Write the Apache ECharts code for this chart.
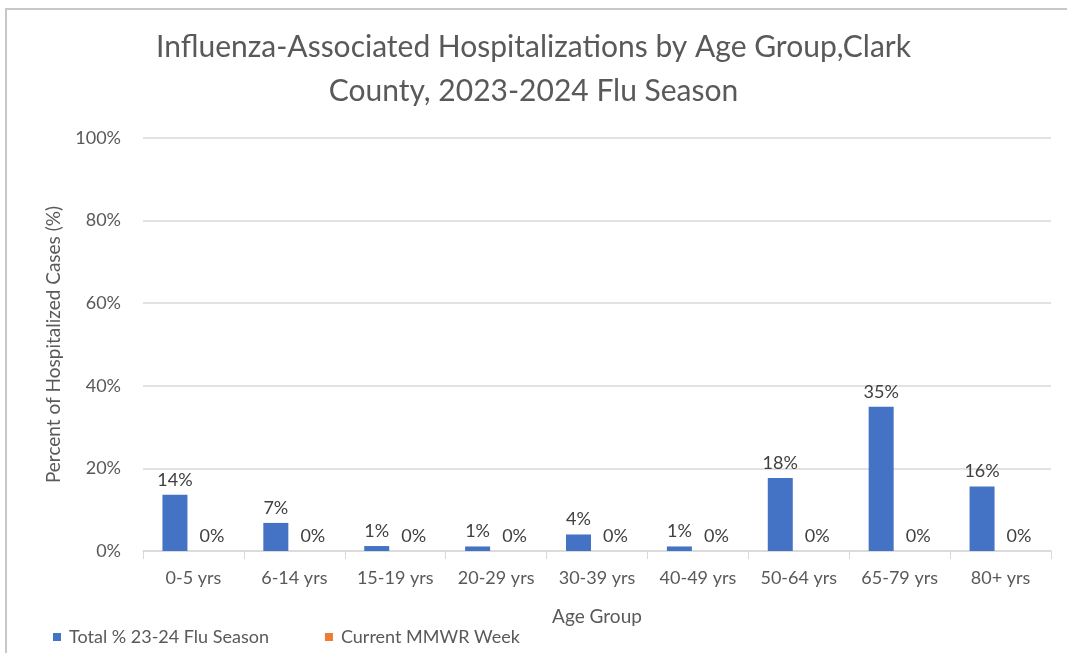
<!DOCTYPE html>
<html>
<head>
<meta charset="utf-8">
<script src="https://cdn.jsdelivr.net/npm/echarts@6/dist/echarts.min.js"></script>
<style>
  body { margin: 0; background: #fff; }
  .frame {
    position: absolute; left: 5px; top: 8px; width: 1060px; height: 660px;
    border-left: 2px solid #c8c8c8; border-top: 2px solid #c8c8c8;
  }
  #chart { position: absolute; left: 0; top: 0; width: 1067px; height: 653px; }
</style>
</head>
<body>
<div class="frame"></div>
<div id="chart"></div>
<script>
const categories = ['0-5 yrs', '6-14 yrs', '15-19 yrs', '20-29 yrs', '30-39 yrs', '40-49 yrs', '50-64 yrs', '65-79 yrs', '80+ yrs'];
const seasonTotal = [13.6, 6.8, 1.2, 1.1, 4.0, 1.1, 17.7, 34.9, 15.6];
const currentWeek = [0, 0, 0, 0, 0, 0, 0, 0, 0];
const yTicks = [0, 20, 40, 60, 80, 100];

const font = 'Lato';
const chart = echarts.init(document.getElementById('chart'));
const option = {
  textStyle: { fontFamily: font },
  title: {
    text: 'Influenza-Associated Hospitalizations by Age Group,Clark\nCounty, 2023-2024 Flu Season',
    left: 'center',
    top: 20,
    textStyle: { fontFamily: font, fontSize: 30, fontWeight: 'normal', color: '#595959', lineHeight: 44 }
  },
  legend: {
    left: 48,
    top: 623,
    itemWidth: 8,
    itemHeight: 8,
    itemGap: 56,
    icon: 'rect',
    textStyle: { fontFamily: font, fontSize: 18, color: '#595959', padding: [0, 0, 0, 3] },
    data: ['Total % 23-24 Flu Season', 'Current MMWR Week']
  },
  grid: { left: 143, right: 16, top: 138, bottom: 102 },
  xAxis: {
    type: 'category',
    data: categories,
    name: 'Age Group',
    nameLocation: 'middle',
    nameGap: 56,
    nameTextStyle: { fontFamily: font, fontSize: 19, color: '#595959' },
    axisLine: { lineStyle: { color: '#d9d9d9', width: 1.5 } },
    axisTick: { show: true, length: 8, lineStyle: { color: '#d9d9d9' } },
    axisLabel: { fontFamily: font, fontSize: 18, color: '#595959', margin: 18 }
  },
  yAxis: {
    type: 'value',
    min: 0,
    max: 100,
    interval: 20,
    name: 'Percent of Hospitalized Cases (%)',
    nameLocation: 'middle',
    nameGap: 80,
    nameTextStyle: { fontFamily: font, fontSize: 19, color: '#595959' },
    axisLine: { show: false },
    axisTick: { show: false },
    splitLine: { lineStyle: { color: '#d9d9d9', width: 1.5 } },
    axisLabel: {
      fontFamily: font, fontSize: 18, color: '#595959', margin: 22,
      formatter: v => yTicks.includes(v) ? v + '%' : ''
    }
  },
  series: [
    {
      name: 'Total % 23-24 Flu Season',
      type: 'bar',
      data: seasonTotal,
      barWidth: 25,
      barGap: '48%',
      itemStyle: { color: '#4472c4' },
      label: {
        show: true, position: 'top', distance: 6,
        fontFamily: font, fontSize: 18, color: '#404040',
        formatter: p => Math.round(p.value) + '%'
      }
    },
    {
      name: 'Current MMWR Week',
      type: 'bar',
      data: currentWeek,
      barWidth: 25,
      itemStyle: { color: '#ed7d31' },
      label: {
        show: true, position: 'top', distance: 6,
        fontFamily: font, fontSize: 18, color: '#404040',
        formatter: p => Math.round(p.value) + '%'
      }
    }
  ]
};
chart.setOption(option);
window.addEventListener('resize', () => chart.resize());
</script>
</body>
</html>
